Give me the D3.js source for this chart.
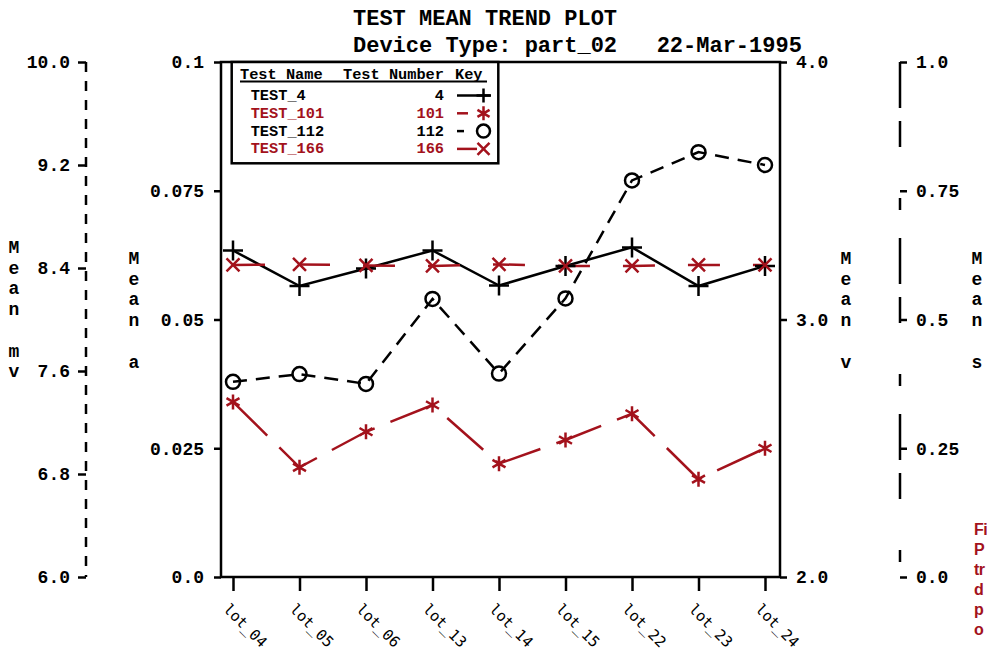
<!DOCTYPE html>
<html>
<head>
<meta charset="utf-8">
<script src="https://cdn.jsdelivr.net/npm/d3@7"></script>
<style>
  html, body { margin: 0; padding: 0; background: #fff; }
  svg { display: block; }
</style>
</head>
<body>
<svg id="chart" width="987" height="656"></svg>
<script>
// ---- data ----
const lots = ["lot_04", "lot_05", "lot_06", "lot_13", "lot_14", "lot_15", "lot_22", "lot_23", "lot_24"];

const test4   = [0.0634, 0.0565, 0.0599, 0.0634, 0.0566, 0.0604, 0.0640, 0.0565, 0.0604];
const test101 = [0.0340, 0.0213, 0.0282, 0.0334, 0.0220, 0.0266, 0.0317, 0.0190, 0.0250];
const test112 = [0.0379, 0.0394, 0.0375, 0.0540, 0.0395, 0.0541, 0.0770, 0.0825, 0.0800];
const test166 = [0.0606, 0.0607, 0.0605, 0.0604, 0.0607, 0.0604, 0.0604, 0.0606, 0.0606];

const testNames   = ["TEST_4", "TEST_101", "TEST_112", "TEST_166"];
const testNumbers = ["4", "101", "112", "166"];

const ticksA  = [0, 0.025, 0.05, 0.075, 0.1];
const labelsA = ["0.0", "0.025", "0.05", "0.075", "0.1"];
const ticksMv  = [6.0, 6.8, 7.6, 8.4, 9.2, 10.0];
const labelsMv = ["6.0", "6.8", "7.6", "8.4", "9.2", "10.0"];
const ticksV  = [2, 3, 4];
const labelsV = ["2.0", "3.0", "4.0"];
const ticksS  = [0, 0.25, 0.5, 0.75, 1];
const labelsS = ["0.0", "0.25", "0.5", "0.75", "1.0"];

const titleLines = ["TEST MEAN TREND PLOT", "Device Type: part_02   22-Mar-1995"];
const captionLines = ["Fi", "P", "tr", "d", "p", "o"];

// ---- layout ----
const L = 221, R = 780, T = 62, B = 577;
const RED = "#a3121c";
const MONO = "'Liberation Mono', 'Courier New', monospace";
const SW = 2.5;

const svg = d3.select("#chart");

const x   = d3.scalePoint().domain(lots).range([233, 765]);
const yA  = d3.scaleLinear().domain([0, 0.1]).range([B, T]);
const yMv = d3.scaleLinear().domain([6, 10]).range([B, T]);
const yV  = d3.scaleLinear().domain([2, 4]).range([B, T]);
const yS  = d3.scaleLinear().domain([0, 1]).range([B, T]);

// ---- marker shapes ----
const markers = {
  plus: s => `M${-s},0H${s}M0,${-s}V${s}`,
  cross: s => `M${-s},${-s}L${s},${s}M${-s},${s}L${s},${-s}`,
  star: s => {
    const a = s * Math.cos(Math.PI / 6), b = s * Math.sin(Math.PI / 6);
    return `M0,${-s}V${s}M${-a},${-b}L${a},${b}M${-a},${b}L${a},${-b}`;
  }
};

function drawMarker(g, type, cx, cy, size, color) {
  if (type === "circle") {
    g.append("circle").attr("cx", cx).attr("cy", cy).attr("r", size)
      .attr("fill", "none").attr("stroke", color).attr("stroke-width", SW);
  } else {
    g.append("path").attr("d", markers[type](size))
      .attr("transform", `translate(${cx},${cy})`)
      .attr("fill", "none").attr("stroke", color).attr("stroke-width", SW);
  }
}

// ---- series definitions ----
const series = [
  { name: testNames[0], num: testNumbers[0], values: test4,   color: "#000", dash: null,    marker: "plus",   size: 10,  keySize: 7,   keyStart: 457, keyEnd: 491 },
  { name: testNames[1], num: testNumbers[1], values: test101, color: RED,    dash: "48,17", marker: "star",   size: 7.5, keySize: 7,   keyStart: 457, keyEnd: 468 },
  { name: testNames[2], num: testNumbers[2], values: test112, color: "#000", dash: "14,9",  marker: "circle", size: 7,   keySize: 6.5, keyStart: 457, keyEnd: 464 },
  { name: testNames[3], num: testNumbers[3], values: test166, color: RED,    dash: "32,33", marker: "cross",  size: 6.5, keySize: 6,   keyStart: 457, keyEnd: 477 }
];

// ---- title ----
svg.append("g").selectAll("text").data(titleLines).join("text")
  .attr("x", 353).attr("y", (d, i) => 25 + i * 27)
  .attr("font-family", MONO).attr("font-weight", "bold").attr("font-size", 22)
  .attr("xml:space", "preserve").style("white-space", "pre")
  .text(d => d);

// ---- axis styling helper ----
function styleAxis(g, fontSize) {
  g.selectAll(".tick line").attr("stroke", "#000").attr("stroke-width", SW);
  g.selectAll(".tick text").attr("fill", "#000")
    .attr("font-family", MONO).attr("font-weight", "bold").attr("font-size", fontSize);
  g.select(".domain").remove();
}

// Mean a (inner left)
const gA = svg.append("g").attr("transform", `translate(${L},0)`)
  .call(d3.axisLeft(yA).tickValues(ticksA).tickFormat((d, i) => labelsA[i])
    .tickSize(7).tickPadding(10));
styleAxis(gA, 18);

// Mean v (inner right)
const gV = svg.append("g").attr("transform", `translate(${R},0)`)
  .call(d3.axisRight(yV).tickValues(ticksV).tickFormat((d, i) => labelsV[i])
    .tickSize(7).tickPadding(9));
styleAxis(gV, 18);

// Mean mv (outer left, dashed)
const xMv = 86;
svg.append("line").attr("x1", xMv).attr("x2", xMv)
  .attr("y1", yMv.range()[1]).attr("y2", yMv.range()[0])
  .attr("stroke", "#000").attr("stroke-width", SW).attr("stroke-dasharray", "10,9");
const gMv = svg.append("g").attr("transform", `translate(${xMv},0)`)
  .call(d3.axisLeft(yMv).tickValues(ticksMv).tickFormat((d, i) => labelsMv[i])
    .tickSize(8).tickPadding(8));
styleAxis(gMv, 18);

// Mean s (outer right, long dash-dot)
const xS = 900;
svg.append("line").attr("x1", xS).attr("x2", xS)
  .attr("y1", yS.range()[1]).attr("y2", yS.range()[0])
  .attr("stroke", "#000").attr("stroke-width", SW)
  .attr("stroke-dasharray", "46,13,26,51,12,28");
const gS = svg.append("g").attr("transform", `translate(${xS},0)`)
  .call(d3.axisRight(yS).tickValues(ticksS).tickFormat((d, i) => labelsS[i])
    .tickSize(7).tickPadding(9));
styleAxis(gS, 18);

// plot frame
svg.append("rect").attr("x", L).attr("y", T).attr("width", R - L).attr("height", B - T)
  .attr("fill", "none").attr("stroke", "#000").attr("stroke-width", SW);

// x axis with slanted lot labels
const gX = svg.append("g").attr("transform", `translate(0,${B})`)
  .call(d3.axisBottom(x).tickSize(14).tickPadding(0));
gX.select(".domain").remove();
gX.selectAll(".tick line").attr("stroke", "#000").attr("stroke-width", SW);
gX.selectAll(".tick text")
  .attr("x", 0).attr("y", 0).attr("dy", 0)
  .attr("text-anchor", "start")
  .attr("transform", "translate(-11,33) rotate(45)")
  .attr("fill", "#000")
  .attr("font-family", "'DejaVu Sans Mono', monospace")
  .attr("font-size", 15);

// vertical axis titles, one letter per line
function verticalTitle(cx, firstBaseline, words) {
  const letters = [];
  words.forEach((w, wi) => {
    if (wi > 0) letters.push("");
    w.split("").forEach(c => letters.push(c));
  });
  svg.append("g").selectAll("text").data(letters).join("text")
    .attr("x", cx).attr("y", (d, i) => firstBaseline + i * 20.7)
    .attr("text-anchor", "middle")
    .attr("font-family", MONO).attr("font-weight", "bold").attr("font-size", 18)
    .text(d => d);
}
verticalTitle(14, 253, ["Mean", "mv"]);
verticalTitle(134, 264, ["Mean", "a"]);
verticalTitle(846, 264, ["Mean", "v"]);
verticalTitle(977, 264, ["Mean", "s"]);

// ---- series ----
const line = d3.line().x((d, i) => x(lots[i])).y(d => yA(d));
const gSeries = svg.append("g");
series.forEach(s => {
  gSeries.append("path").datum(s.values)
    .attr("d", line)
    .attr("fill", "none").attr("stroke", s.color).attr("stroke-width", SW)
    .attr("stroke-dasharray", s.dash);
});
series.forEach(s => {
  const gm = gSeries.append("g");
  s.values.forEach((v, i) => drawMarker(gm, s.marker, x(lots[i]), yA(v), s.size, s.color));
});

// ---- legend ----
const leg = svg.append("g");
leg.append("rect").attr("x", 231.7).attr("y", T).attr("width", 266.6).attr("height", 101.3)
  .attr("fill", "#fff").attr("stroke", "#000").attr("stroke-width", SW);
const legFont = g => g.attr("font-family", MONO).attr("font-weight", "bold").attr("font-size", 15.3);
[["Test Name", 240], ["Test Number", 343], ["Key", 455]].forEach(([t, hx]) => {
  leg.append("text").attr("x", hx).attr("y", 79).call(legFont).text(t);
});
leg.append("line").attr("x1", 240).attr("x2", 487).attr("y1", 81.5).attr("y2", 81.5)
  .attr("stroke", "#000").attr("stroke-width", 2);
series.forEach((s, i) => {
  const by = 100 + i * 17.8;
  const ky = by - 4.5;
  leg.append("text").attr("x", 250.7).attr("y", by).attr("fill", s.color).call(legFont).text(s.name);
  leg.append("text").attr("x", 444).attr("y", by).attr("fill", s.color)
    .attr("text-anchor", "end").call(legFont).text(s.num);
  leg.append("line").attr("x1", s.keyStart).attr("x2", s.keyEnd).attr("y1", ky).attr("y2", ky)
    .attr("stroke", s.color).attr("stroke-width", SW);
  drawMarker(leg, s.marker, 483.5, ky, s.keySize, s.color);
});

// ---- side caption ----
svg.append("g").selectAll("text").data(captionLines).join("text")
  .attr("x", 974).attr("y", (d, i) => 535 + i * 20)
  .attr("fill", RED)
  .attr("font-family", "'Liberation Sans Narrow', 'Arial Narrow', 'Liberation Sans', sans-serif")
  .attr("font-weight", "bold").attr("font-size", 16)
  .attr("letter-spacing", -0.6)
  .text(d => d);
</script>
</body>
</html>
